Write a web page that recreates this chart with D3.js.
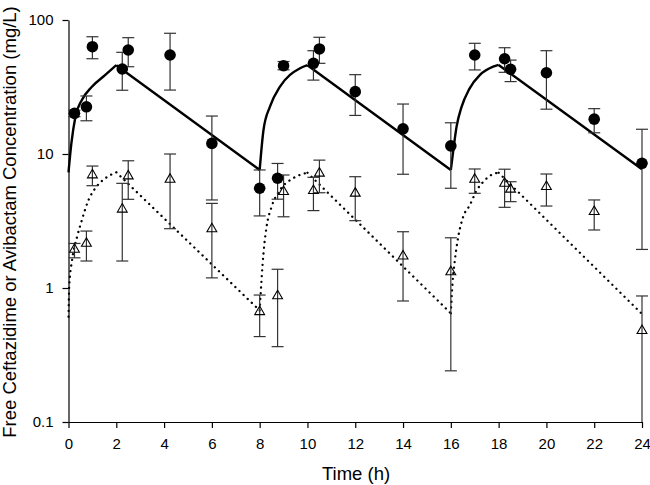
<!DOCTYPE html>
<html>
<head>
<meta charset="utf-8">
<script src="https://cdn.jsdelivr.net/npm/d3@7"></script>
<style>
  html, body { margin: 0; padding: 0; background: #fff; }
  svg { display: block; }
  text { font-family: Arial, "Liberation Sans", sans-serif; fill: #000; }
</style>
</head>
<body>
<svg id="chart" width="650" height="485"></svg>
<script>
// ---- Observed data: ceftazidime (filled circles) ----
const cefTime = [0.25, 0.75, 1, 2.25, 2.5, 4.25, 6, 8, 8.75, 9, 10.25, 10.5, 12, 14, 16, 17, 18.25, 18.5, 20, 22, 24];
const cefMean = [20.1, 22.5, 63.2, 43.1, 59.7, 54.8, 12.0, 5.55, 6.59, 45.6, 47.5, 60.8, 29.2, 15.4, 11.5, 54.8, 51.4, 42.9, 40.4, 18.2, 8.52];
const cefLow  = [19.0, 17.7, 51.4, 29.9, 44.8, 30.0, 4.54, 3.45, 4.6, 42.5, 35.6, 47.5, 19.4, 7.06, 5.55, 42.4, 40.7, 34.7, 21.6, 14.4, 1.94];
const cefHigh = [21.2, 27.1, 75.0, 57.4, 73.8, 79.6, 19.2, 7.6, 8.5, 49.0, 59.0, 74.3, 39.1, 23.6, 17.1, 67.0, 62.1, 50.2, 59.0, 21.8, 15.3];

// ---- Observed data: avibactam (open triangles) ----
const aviTime = [0.25, 0.75, 1, 2.25, 2.5, 4.25, 6, 8, 8.75, 9, 10.25, 10.5, 12, 14, 16, 17, 18.25, 18.5, 20, 22, 24];
const aviMean = [1.94, 2.15, 6.97, 3.87, 6.85, 6.47, 2.76, 0.665, 0.872, 5.23, 5.32, 7.18, 5.09, 1.73, 1.32, 6.47, 6.04, 5.45, 5.70, 3.71, 0.48];
const aviLow  = [1.68, 1.59, 5.80, 1.59, 4.59, 2.77, 1.19, 0.434, 0.365, 3.40, 3.78, 5.14, 3.18, 0.80, 0.241, 5.09, 4.0, 4.41, 4.09, 2.71, 0.1];
const aviHigh = [2.15, 2.66, 8.13, 6.04, 8.9, 10.0, 4.28, 0.886, 1.38, 6.97, 6.7, 9.0, 6.77, 2.63, 2.37, 7.73, 7.7, 6.21, 7.09, 4.54, 0.872];

// ---- Model curves ----
const cefModelTime = [0, 0.12, 0.29, 0.56, 0.98, 1.54, 2, 8, 8.16, 8.43, 8.85, 9.69, 10, 16, 16.07, 16.24, 16.45, 16.77, 17.22, 17.77, 18, 24];
const cefModelConc = [7.3, 12, 19, 25.3, 31.8, 38.9, 46, 7.6, 15.1, 22.6, 31.8, 43.6, 46, 7.6, 9.55, 16, 22.5, 30.5, 38.9, 44.8, 46.2, 7.7];
const aviModelTime = [0, 0.03, 0.15, 0.36, 0.56, 0.84, 1.12, 1.54, 2, 8, 8.16, 8.29, 8.5, 8.85, 9.4, 10, 16, 16.07, 16.17, 16.31, 16.52, 16.8, 17.05, 17.36, 17.77, 18, 24];
const aviModelConc = [0.61, 1.02, 1.62, 2.41, 3.22, 4.54, 5.55, 6.59, 7.3, 0.68, 1.82, 2.87, 4.04, 5.39, 6.59, 7.25, 0.647, 1.08, 1.62, 2.41, 3.41, 4.17, 5.23, 6.21, 7.09, 7.25, 0.64];
const modelBreaks = [2, 8, 10, 16, 18]; // end of infusion / start of next dose

// ---- Axis ticks ----
const xTicks = [0, 2, 4, 6, 8, 10, 12, 14, 16, 18, 20, 22, 24];
const yTicks = [0.1, 1, 10, 100];
const yTickLabels = ["0.1", "1", "10", "100"];
const xTitle = "Time (h)";
const yTitle = "Free Ceftazidime or Avibactam Concentration (mg/L)";

const svg = d3.select("#chart");
const x = d3.scaleLinear().domain([0, 24]).range([68.5, 642]);
const y = d3.scaleLog().domain([0.1, 100]).range([422, 20]);

// Axes
const gx = svg.append("g").attr("transform", `translate(0,${y(0.1)})`)
  .call(d3.axisBottom(x).tickValues(xTicks).tickSize(6).tickSizeOuter(0).tickPadding(10).tickFormat(d3.format("d")));
const gy = svg.append("g").attr("transform", `translate(${x(0)},0)`)
  .call(d3.axisLeft(y).tickValues(yTicks).tickSize(6).tickSizeOuter(0).tickPadding(9)
    .tickFormat((d, i) => yTickLabels[i]));
[gx, gy].forEach(g => {
  g.selectAll("path.domain").attr("stroke", "#000").attr("stroke-width", 1.2);
  g.selectAll(".tick line").attr("stroke", "#000").attr("stroke-width", 1.2);
  g.selectAll(".tick text").attr("font-size", 15).attr("font-family", "Arial, 'Liberation Sans', sans-serif").attr("fill", "#000");
});

// Titles
svg.append("text").attr("x", 356).attr("y", 480).attr("text-anchor", "middle")
  .attr("font-size", 18.5).text(xTitle);
svg.append("text").attr("transform", "translate(15.5,222) rotate(-90)").attr("text-anchor", "middle")
  .attr("font-size", 18.5).text(yTitle);

// Model curves split into rise/decay segments
function segments(ts, vs) {
  const segs = [];
  let cur = [];
  ts.forEach((t, i) => {
    cur.push([t, vs[i]]);
    if (modelBreaks.includes(t)) { segs.push(cur); cur = [[t, vs[i]]]; }
  });
  if (cur.length > 1) segs.push(cur);
  return segs;
}
const line = d3.line().x(d => x(d[0])).y(d => y(d[1])).curve(d3.curveMonotoneX);

const gLines = svg.append("g");
const cefPath = segments(cefModelTime, cefModelConc).map(s => line(s)).join("");
gLines.append("path").attr("d", cefPath).attr("fill", "none").attr("stroke", "#000")
  .attr("stroke-width", 2.4).attr("stroke-linejoin", "miter");
const aviPath = segments(aviModelTime, aviModelConc).map(s => line(s)).join("");
gLines.append("path").attr("d", aviPath).attr("fill", "none").attr("stroke", "#000")
  .attr("stroke-width", 2.3).attr("stroke-linecap", "round").attr("stroke-dasharray", "0.1,5.6");

// Error bars
function errorBars(ts, lo, hi) {
  const g = svg.append("g").attr("stroke", "#333").attr("stroke-width", 1.2).attr("fill", "none");
  ts.forEach((t, i) => {
    const cx = x(t);
    g.append("line").attr("x1", cx).attr("x2", cx).attr("y1", y(lo[i])).attr("y2", y(hi[i]));
    g.append("line").attr("x1", cx - 6).attr("x2", cx + 6).attr("y1", y(hi[i])).attr("y2", y(hi[i]));
    if (lo[i] > 0.1) g.append("line").attr("x1", cx - 6).attr("x2", cx + 6).attr("y1", y(lo[i])).attr("y2", y(lo[i]));
  });
}
errorBars(aviTime, aviLow, aviHigh);
errorBars(cefTime, cefLow, cefHigh);

// Markers
svg.append("g").selectAll("path").data(aviTime).join("path")
  .attr("transform", (d, i) => `translate(${x(d)},${y(aviMean[i])})`)
  .attr("d", d3.symbol(d3.symbolTriangle, 42))
  .attr("fill", "none").attr("stroke", "#000").attr("stroke-width", 1.1);
svg.append("g").selectAll("circle").data(cefTime).join("circle")
  .attr("cx", d => x(d)).attr("cy", (d, i) => y(cefMean[i])).attr("r", 5.8).attr("fill", "#000");
</script>
</body>
</html>
